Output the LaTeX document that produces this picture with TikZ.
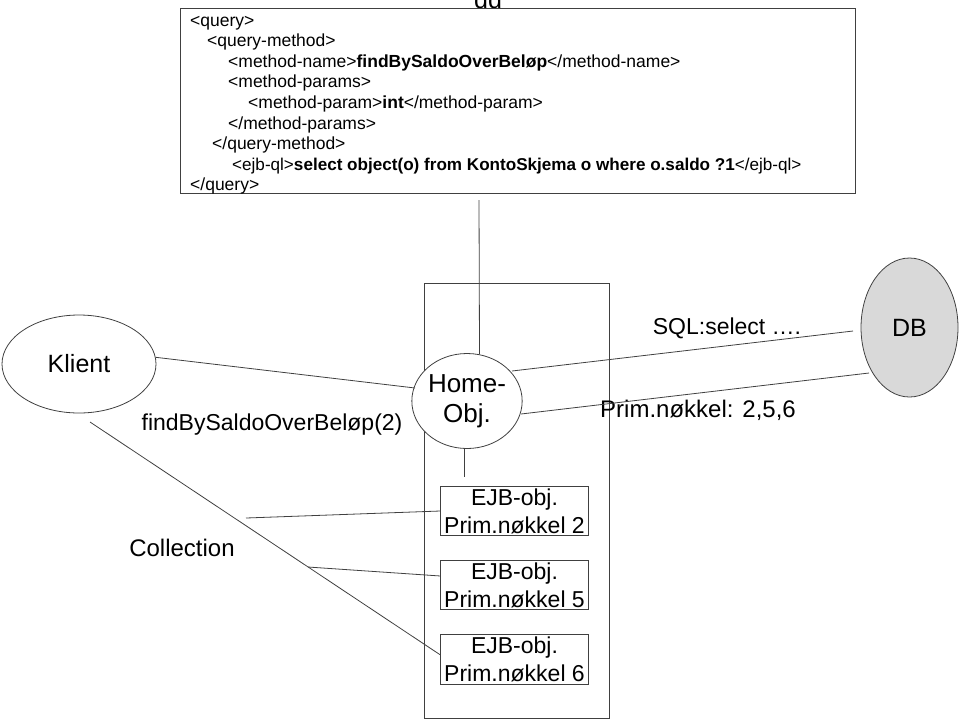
\documentclass[tikz,border=0pt]{standalone}
\usepackage{fontspec}
\setmainfont{Liberation Sans}
\usetikzlibrary{shapes.geometric}
\definecolor{ln}{gray}{0.25}
\definecolor{dbfill}{RGB}{217,217,217}
\tikzset{
  conn/.style={draw=ln, line width=0.8pt},
  ell/.style={ellipse, draw=ln, line width=0.8pt, inner sep=0pt},
  ejb/.style={draw=ln, line width=0.8pt, minimum width=148pt, minimum height=49.5pt, inner sep=0pt, align=center, font=\fontsize{23}{28}\selectfont},
  xml/.style={anchor=base west, inner sep=0pt, font=\fontsize{17.5}{20}\selectfont},
  lbl/.style={inner sep=0pt, font=\fontsize{24}{28}\selectfont}
}
\begin{document}
\begin{tikzpicture}[x=1pt,y=-1pt]
\useasboundingbox (0,0) rectangle (960,724);
\clip (0,0) rectangle (960,724);
% cut-off text at the top
\node[anchor=base, inner sep=0pt, font=\fontsize{25}{28}\selectfont] (cut) at (488,8.5) {dd};
% xml box
\node[draw=ln, fill=white, line width=0.8pt, minimum width=675pt, minimum height=185pt, inner sep=0pt] (box) at (517.5,100.5) {};
\node[xml] (l1) at (190,26) {<query>};
\node[xml] (l2) at (207,46.6) {<query-method>};
\node[xml] (l3) at (228,67.2) {<method-name>\textbf{findBySaldoOverBeløp}</method-name>};
\node[xml] (l4) at (228,87.8) {<method-params>};
\node[xml] (l5) at (248,108.4) {<method-param>\textbf{int}</method-param>};
\node[xml] (l6) at (228,129) {</method-params>};
\node[xml] (l7) at (212,149.6) {</query-method>};
\node[xml, font=\fontsize{17.1}{20}\selectfont] (l8) at (232,170.2) {<ejb-ql>\textbf{select object(o) from KontoSkjema o where o.saldo ?1}</ejb-ql>};
\node[xml] (l9) at (190,190.8) {</query>};
% container
\node[draw=ln, line width=0.8pt, minimum width=185pt, minimum height=435pt, inner sep=0pt] (cont) at (516.5,500.5) {};
% nodes
\node[ell, minimum width=154pt, minimum height=98pt, font=\fontsize{25}{28}\selectfont] (klient) at (79,364) {Klient};
\node[ell, fill=white, minimum width=89pt, minimum height=95pt, align=center, font=\fontsize{26}{30}\selectfont] (home) at (467,401) {Home-\\Obj.};
\node[ell, fill=dbfill, minimum width=97pt, minimum height=139pt, font=\fontsize{25}{28}\selectfont] (db) at (909.5,327.5) {DB};
\node[ejb] (e1) at (514.5,511) {EJB-obj.\\Prim.nøkkel 2};
\node[ejb] (e2) at (514.5,585) {EJB-obj.\\Prim.nøkkel 5};
\node[ejb] (e3) at (514.5,659.5) {EJB-obj.\\Prim.nøkkel 6};
% labels
\node[lbl, font=\fontsize{23}{28}\selectfont] (find) at (272,425) {findBySaldoOverBeløp(2)};
\node[lbl] (coll) at (182,548) {Collection};
\node[lbl, font=\fontsize{23}{28}\selectfont] (sql) at (727,328) {SQL:select ….};
\node[lbl] (prim) at (698,410) {Prim.nøkkel: 2,5,6};
% free connector ends
\coordinate (q1) at (479,200);
\coordinate (h2) at (464,477);
\coordinate (k1) at (415,388);
\coordinate (k2) at (90,422);
\coordinate (k3) at (440.5,655);
\coordinate (c1) at (246,518);
\coordinate (c2) at (308,567);
\coordinate (c3) at (440.5,576);
\coordinate (s1) at (512,371);
\coordinate (s2) at (853,331);
\coordinate (p1) at (521,414);
\coordinate (p2) at (869,373);
% connectors
\draw[conn] (q1) -- (home.75);
\draw[conn] (home.south -| h2) -- (h2);
\draw[conn] (klient.5) -- (k1);
\draw[conn] (k2) -- (k3);
\draw[conn] (c1) -- (e1.west);
\draw[conn] (c2) -- (c3);
\draw[conn] (s1) -- (s2);
\draw[conn] (p1) -- (p2);
\end{tikzpicture}
\end{document}
